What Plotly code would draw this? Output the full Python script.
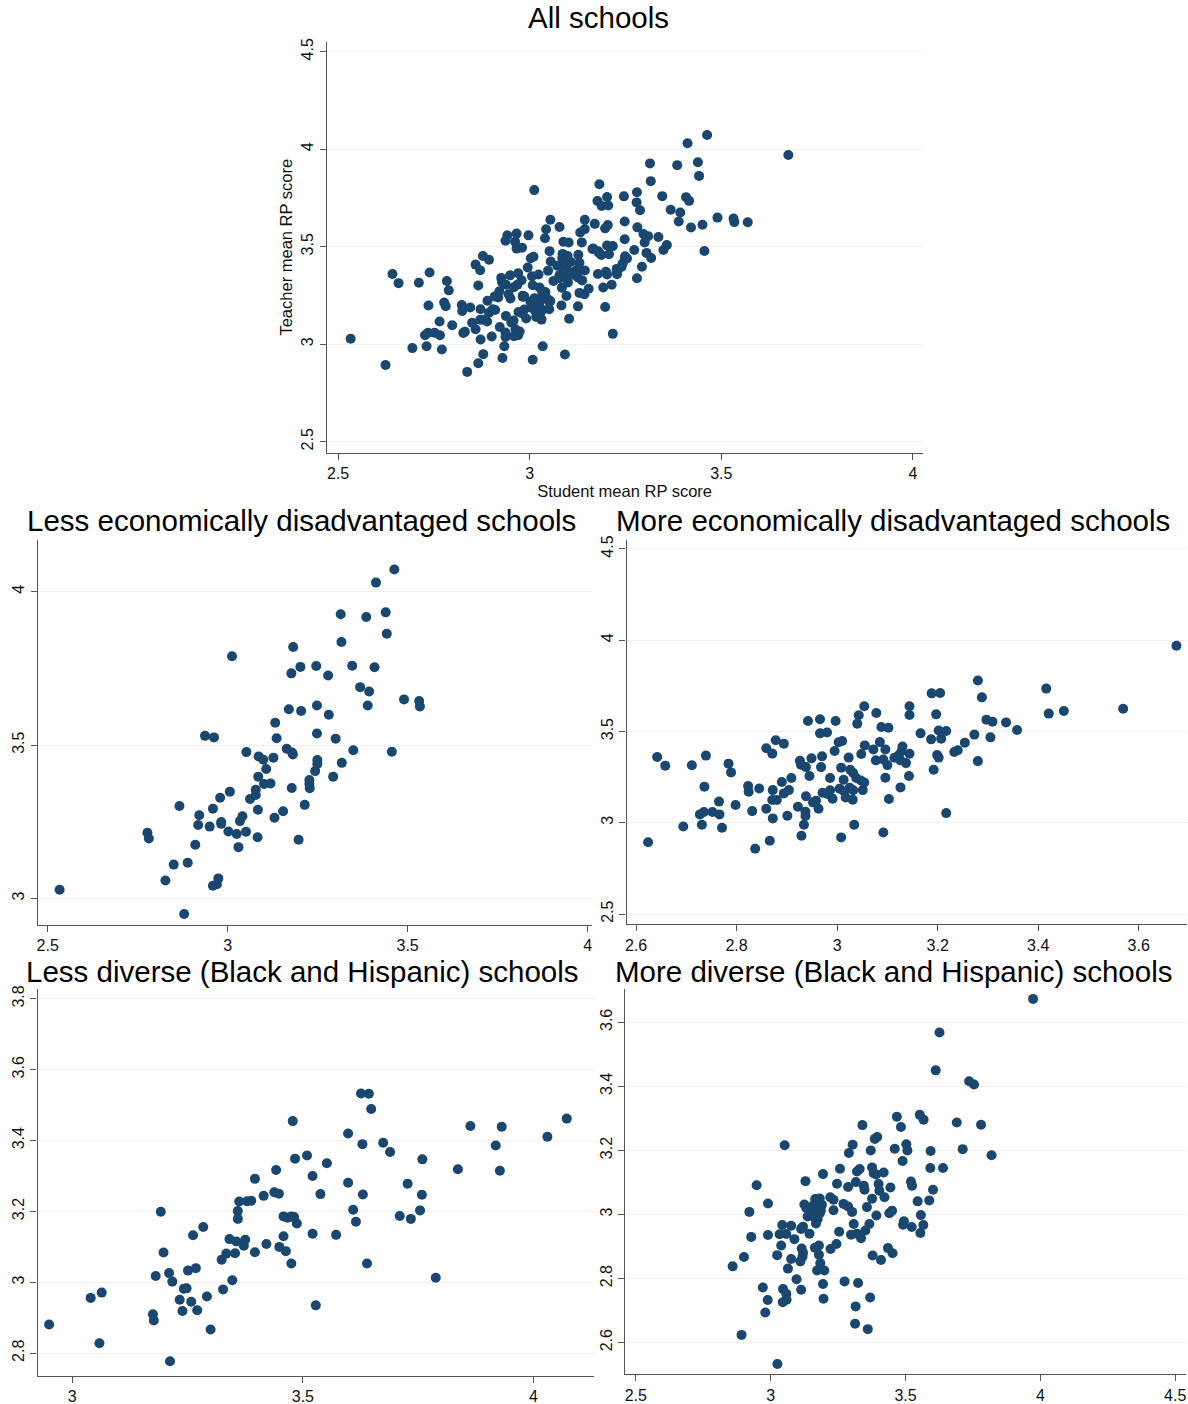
import plotly.graph_objects as go

# School-level means: (student mean RP score, teacher mean RP score)
less_econ_points = [
    (2.533, 3.028), (2.879, 2.949), (2.777, 3.214), (2.781, 3.195), (2.866, 3.301), (2.827, 3.058),
    (2.850, 3.110), (2.889, 3.116), (2.910, 3.175), (2.918, 3.239), (2.921, 3.271), (2.950, 3.234),
    (2.959, 3.292), (2.979, 3.328), (2.982, 3.249), (2.982, 3.243), (3.006, 3.348), (3.002, 3.218),
    (3.025, 3.210), (3.030, 3.167), (3.034, 3.252), (3.041, 3.268), (3.051, 3.217), (2.959, 3.041),
    (2.970, 3.046), (2.974, 3.065), (2.937, 3.530), (2.962, 3.525), (3.012, 3.790), (3.052, 3.477),
    (3.062, 3.324), (3.078, 3.337), (3.078, 3.354), (3.084, 3.289), (3.083, 3.199), (3.085, 3.397),
    (3.086, 3.463), (3.099, 3.452), (3.107, 3.422), (3.101, 3.373), (3.119, 3.375), (3.127, 3.459),
    (3.130, 3.263), (3.154, 3.284), (3.132, 3.573), (3.136, 3.522), (3.164, 3.488), (3.179, 3.476),
    (3.181, 3.469), (3.178, 3.360), (3.170, 3.617), (3.204, 3.611), (3.177, 3.734), (3.202, 3.755),
    (3.182, 3.820), (3.197, 3.191), (3.214, 3.305), (3.227, 3.386), (3.227, 3.373), (3.228, 3.359),
    (3.243, 3.415), (3.249, 3.451), (3.249, 3.438), (3.248, 3.538), (3.248, 3.629), (3.246, 3.758),
    (3.279, 3.727), (3.281, 3.599), (3.293, 3.397), (3.300, 3.521), (3.317, 3.442), (3.316, 3.836),
    (3.314, 3.927), (3.346, 3.759), (3.349, 3.483), (3.368, 3.689), (3.393, 3.675), (3.389, 3.629),
    (3.385, 3.918), (3.408, 3.754), (3.412, 4.030), (3.439, 3.933), (3.442, 3.863), (3.463, 4.073),
    (3.456, 3.478), (3.490, 3.649), (3.532, 3.644), (3.534, 3.626),
]

more_econ_points = [
    (2.624, 2.893), (2.642, 3.360), (2.658, 3.313), (2.694, 2.980), (2.711, 3.315), (2.739, 3.368),
    (2.736, 3.198), (2.727, 3.046), (2.735, 3.059), (2.731, 2.989), (2.752, 3.059), (2.765, 3.116),
    (2.766, 3.046), (2.771, 2.973), (2.784, 3.324), (2.789, 3.276), (2.798, 3.097), (2.823, 3.201),
    (2.824, 3.170), (2.831, 3.064), (2.837, 2.858), (2.845, 3.188), (2.859, 3.077), (2.859, 3.408),
    (2.871, 3.379), (2.878, 3.452), (2.894, 3.433), (2.872, 3.179), (2.871, 3.125), (2.880, 3.125),
    (2.872, 3.024), (2.866, 2.902), (2.890, 3.223), (2.894, 3.161), (2.904, 3.179), (2.909, 3.245),
    (2.901, 3.039), (2.922, 3.088), (2.929, 2.929), (2.934, 2.989), (2.937, 3.060), (2.937, 3.037),
    (2.938, 3.145), (2.926, 3.340), (2.928, 3.318), (2.949, 3.353), (2.942, 3.558), (2.945, 3.256),
    (2.938, 3.305), (2.952, 3.112), (2.958, 3.121), (2.963, 3.077), (2.966, 3.567), (2.966, 3.490),
    (2.980, 3.495), (2.970, 3.364), (2.968, 3.305), (2.971, 3.165), (2.986, 3.245), (2.981, 3.158),
    (2.991, 3.132), (2.986, 3.178), (2.997, 3.558), (2.995, 3.393), (3.003, 3.441), (3.010, 3.448),
    (3.008, 3.302), (3.013, 3.236), (3.005, 3.187), (3.014, 3.172), (3.017, 3.139), (3.008, 2.920),
    (3.034, 2.989), (3.023, 3.357), (3.026, 3.291), (3.032, 3.273), (3.038, 3.245), (3.025, 3.192),
    (3.032, 3.178), (3.031, 3.126), (3.040, 3.543), (3.043, 3.589), (3.054, 3.638), (3.055, 3.424),
    (3.048, 3.377), (3.047, 3.232), (3.054, 3.221), (3.051, 3.179), (3.078, 3.601), (3.072, 3.402),
    (3.077, 3.342), (3.085, 3.442), (3.088, 3.525), (3.102, 3.521), (3.092, 3.347), (3.096, 3.402),
    (3.100, 3.316), (3.096, 3.247), (3.103, 3.130), (3.092, 2.947), (3.114, 3.356), (3.122, 3.369),
    (3.126, 3.342), (3.128, 3.391), (3.130, 3.418), (3.137, 3.327), (3.144, 3.378), (3.126, 3.194),
    (3.143, 3.256), (3.144, 3.638), (3.144, 3.590), (3.166, 3.490), (3.187, 3.457), (3.192, 3.291),
    (3.188, 3.709), (3.205, 3.711), (3.197, 3.594), (3.202, 3.506), (3.207, 3.461), (3.199, 3.371),
    (3.202, 3.357), (3.217, 3.503), (3.217, 3.053), (3.233, 3.388), (3.240, 3.397), (3.254, 3.439),
    (3.273, 3.483), (3.280, 3.779), (3.288, 3.687), (3.280, 3.338), (3.297, 3.565), (3.309, 3.554),
    (3.305, 3.468), (3.336, 3.550), (3.358, 3.508), (3.416, 3.735), (3.421, 3.598), (3.451, 3.612),
    (3.569, 3.625), (3.675, 3.970),
]

# Diverse/less diverse split: (teacher mean RP score, student mean RP score)
less_div_points = [
    (2.950, 2.881), (3.040, 2.956), (3.064, 2.971), (3.059, 2.828), (3.175, 2.910), (3.177, 2.892),
    (3.181, 3.018), (3.192, 3.199), (3.198, 3.084), (3.210, 3.026), (3.217, 3.002), (3.212, 2.777),
    (3.233, 2.951), (3.239, 2.919), (3.242, 2.982), (3.248, 2.983), (3.251, 3.033), (3.268, 3.040),
    (3.258, 2.945), (3.271, 2.921), (3.262, 3.133), (3.284, 3.156), (3.292, 2.960), (3.300, 2.867),
    (3.324, 3.064), (3.327, 2.980), (3.334, 3.081), (3.341, 3.122), (3.347, 3.006), (3.353, 3.082),
    (3.356, 3.115), (3.359, 3.201), (3.359, 3.179), (3.362, 3.228), (3.372, 3.103), (3.375, 3.120),
    (3.379, 3.229), (3.388, 3.230), (3.396, 3.085), (3.396, 3.292), (3.415, 3.244), (3.421, 3.108),
    (3.438, 3.254), (3.448, 3.250), (3.442, 3.317), (3.449, 3.100), (3.458, 3.186), (3.458, 3.130),
    (3.463, 3.088), (3.467, 3.182), (3.475, 3.186), (3.481, 3.184), (3.487, 3.166), (3.475, 3.053),
    (3.478, 3.455), (3.483, 3.349), (3.509, 3.358), (3.521, 3.300), (3.521, 3.137), (3.528, 2.935),
    (3.538, 3.249), (3.552, 3.336), (3.572, 3.134), (3.598, 3.420), (3.598, 3.281), (3.609, 3.205),
    (3.615, 3.171), (3.626, 3.533), (3.643, 3.532), (3.648, 3.489), (3.629, 3.390), (3.630, 3.248),
    (3.639, 3.053), (3.674, 3.394), (3.689, 3.368), (3.710, 3.187), (3.727, 3.278), (3.734, 3.179),
    (3.754, 3.203), (3.758, 3.247), (3.759, 3.347), (3.788, 3.013), (3.836, 3.319), (3.863, 3.441),
    (3.918, 3.386), (3.927, 3.315), (3.931, 3.439), (4.030, 3.411), (4.072, 3.462),
]

more_div_points = [
    (3.973, 3.673), (3.626, 3.568), (3.612, 3.450), (3.736, 3.416), (3.754, 3.406), (3.690, 3.287),
    (3.780, 3.280), (3.712, 3.204), (3.819, 3.185), (3.468, 3.305), (3.553, 3.311), (3.567, 3.296),
    (3.483, 3.273), (3.340, 3.279), (3.052, 3.216), (3.304, 3.218), (3.290, 3.192), (3.371, 3.200),
    (3.386, 3.236), (3.395, 3.242), (3.460, 3.205), (3.503, 3.219), (3.507, 3.200), (3.489, 3.167),
    (3.593, 3.198), (3.592, 3.145), (3.639, 3.145), (3.257, 3.143), (3.194, 3.126), (3.320, 3.134),
    (3.330, 3.142), (3.376, 3.147), (3.382, 3.129), (3.391, 3.125), (3.419, 3.131), (2.948, 3.091),
    (3.129, 3.104), (3.246, 3.096), (3.287, 3.086), (3.316, 3.101), (3.345, 3.090), (3.348, 3.077),
    (3.400, 3.095), (3.403, 3.074), (3.422, 3.054), (3.444, 3.084), (3.520, 3.103), (3.524, 3.090),
    (3.602, 3.077), (3.588, 3.044), (3.545, 3.041), (3.376, 3.049), (3.357, 3.023), (3.221, 3.054),
    (3.233, 3.046), (3.233, 3.013), (3.270, 3.033), (3.287, 3.025), (3.302, 3.008), (3.366, 2.970),
    (3.392, 2.997), (3.440, 3.004), (3.450, 3.012), (3.557, 2.998), (3.566, 2.967), (3.555, 2.942),
    (3.494, 2.979), (3.491, 2.968), (3.523, 2.961), (2.990, 3.034), (2.921, 3.008), (3.125, 3.031),
    (3.132, 3.020), (3.137, 2.994), (3.150, 3.012), (3.160, 3.030), (3.165, 3.048), (3.172, 3.040),
    (3.176, 3.020), (3.182, 3.003), (3.160, 2.992), (3.174, 2.985), (3.168, 2.972), (3.186, 3.012),
    (3.190, 3.030), (3.182, 3.050), (3.043, 2.967), (3.076, 2.965), (3.033, 2.938), (3.058, 2.939),
    (3.088, 2.923), (2.990, 2.936), (2.928, 2.930), (3.113, 2.955), (3.120, 2.962), (3.144, 2.940),
    (3.039, 2.903), (3.024, 2.873), (3.076, 2.861), (3.064, 2.831), (2.901, 2.867), (2.859, 2.838),
    (3.115, 2.894), (3.120, 2.880), (3.118, 2.868), (3.110, 2.853), (3.164, 2.896), (3.179, 2.903),
    (3.179, 2.874), (3.184, 2.848), (3.172, 2.825), (3.199, 2.825), (3.222, 2.892), (3.244, 2.908),
    (3.254, 2.946), (3.298, 2.937), (3.308, 2.970), (3.320, 2.940), (3.335, 2.926), (3.351, 2.950),
    (3.378, 2.872), (3.409, 2.858), (3.435, 2.895), (3.452, 2.879), (2.971, 2.772), (2.989, 2.733),
    (2.980, 2.694), (3.096, 2.798), (3.046, 2.767), (3.058, 2.752), (3.045, 2.726), (3.059, 2.734),
    (3.113, 2.765), (3.194, 2.783), (3.196, 2.737), (3.274, 2.791), (3.324, 2.786), (3.369, 2.741),
    (3.315, 2.713), (3.313, 2.659), (3.360, 2.642), (2.892, 2.624), (3.025, 2.533),
]

panel_titles = [
    "All schools",
    "Less economically disadvantaged schools",
    "More economically disadvantaged schools",
    "Less diverse (Black and Hispanic) schools",
    "More diverse (Black and Hispanic) schools",
]
x_axis_title = "Student mean RP score"
y_axis_title = "Teacher mean RP score"

# tick values per panel
ticks_all_x = [2.5, 3, 3.5, 4]
ticks_all_y = [2.5, 3, 3.5, 4, 4.5]
ticks_less_econ_x = [2.5, 3, 3.5, 4]
ticks_less_econ_y = [3, 3.5, 4]
ticks_more_econ_x = [2.6, 2.8, 3, 3.2, 3.4, 3.6]
ticks_more_econ_y = [2.5, 3, 3.5, 4, 4.5]
ticks_less_div_x = [3, 3.5, 4]
ticks_less_div_y = [2.8, 3, 3.2, 3.4, 3.6, 3.8]
ticks_more_div_x = [2.5, 3, 3.5, 4, 4.5]
ticks_more_div_y = [2.6, 2.8, 3, 3.2, 3.4, 3.6]

W, H = 1188, 1404
MARKER = "#1a476f"
AXIS = "#555555"
GRID = "#eef1f1"
FONT = "Liberation Sans, Arial, sans-serif"


def unzip(points):
    return [p[0] for p in points], [p[1] for p in points]


def px_x(a, b):
    return [a / W, b / W]


def px_y(top, bottom):
    return [1 - bottom / H, 1 - top / H]


all_points = less_econ_points + more_econ_points

panels = [
    # points, x domain (px), y domain (px), x range, y range, x ticks, y ticks
    (all_points, (326.7, 922.5), (41.7, 452.7), (2.4705, 4.025), (2.4436, 4.551), ticks_all_x, ticks_all_y),
    (less_econ_points, (38, 592.3), (540, 925), (2.473, 4.013), (2.913, 4.169), ticks_less_econ_x, ticks_less_econ_y),
    (more_econ_points, (626.5, 1187), (540, 924.3), (2.581, 3.696), (2.444, 4.549), ticks_more_econ_x, ticks_more_econ_y),
    (less_div_points, (37.6, 594), (989.3, 1375.5), (2.925, 4.131), (2.737, 3.827), ticks_less_div_x, ticks_less_div_y),
    (more_div_points, (625.3, 1186), (989.3, 1374.3), (2.461, 4.540), (2.501, 3.703), ticks_more_div_x, ticks_more_div_y),
]

fig = go.Figure()
layout = {}
for i, (pts, xd, yd, xr, yr, xt, yt) in enumerate(panels, start=1):
    xs, ys = unzip(pts)
    suffix = "" if i == 1 else str(i)
    fig.add_trace(go.Scatter(
        x=xs, y=ys, mode="markers",
        marker=dict(color=MARKER, size=10, line=dict(width=0)),
        xaxis="x" + suffix, yaxis="y" + suffix, showlegend=False,
        hoverinfo="x+y",
    ))
    common = dict(
        showline=True, linecolor=AXIS, linewidth=1.3,
        ticks="outside", ticklen=6, tickwidth=1.2, tickcolor=AXIS,
        tickfont=dict(family=FONT, size=16, color="#111111"),
        zeroline=False, automargin=False, fixedrange=True,
    )
    layout["xaxis" + suffix] = dict(
        common, domain=px_x(*xd), range=list(xr), showgrid=False,
        tickmode="array", tickvals=xt, ticktext=[f"{v:g}" for v in xt],
        anchor="y" + suffix,
    )
    layout["yaxis" + suffix] = dict(
        common, domain=px_y(*yd), range=list(yr), showgrid=True,
        gridcolor=GRID, gridwidth=1,
        tickmode="array", tickvals=yt, ticktext=[f"{v:g}" for v in yt],
        tickangle=-90, anchor="x" + suffix,
    )

layout["xaxis"]["title"] = dict(text=x_axis_title, font=dict(family=FONT, size=16.5, color="#111111"), standoff=0)
layout["yaxis"]["title"] = dict(text=y_axis_title, font=dict(family=FONT, size=16.5, color="#111111"), standoff=2)

title_pos = [(598, 18), (301.5, 521), (893, 521), (302, 971), (893.5, 971)]
annotations = []
for text, (cx, cy) in zip(panel_titles, title_pos):
    annotations.append(dict(
        text=text, x=cx / W, y=1 - cy / H, xref="paper", yref="paper",
        xanchor="center", yanchor="middle", showarrow=False,
        font=dict(family=FONT, size=29.5, color="#000000"),
    ))

fig.update_layout(
    width=W, height=H,
    margin=dict(l=0, r=0, t=0, b=0),
    paper_bgcolor="white", plot_bgcolor="white",
    annotations=annotations,
    **layout,
)

fig.write_html("out.html")
